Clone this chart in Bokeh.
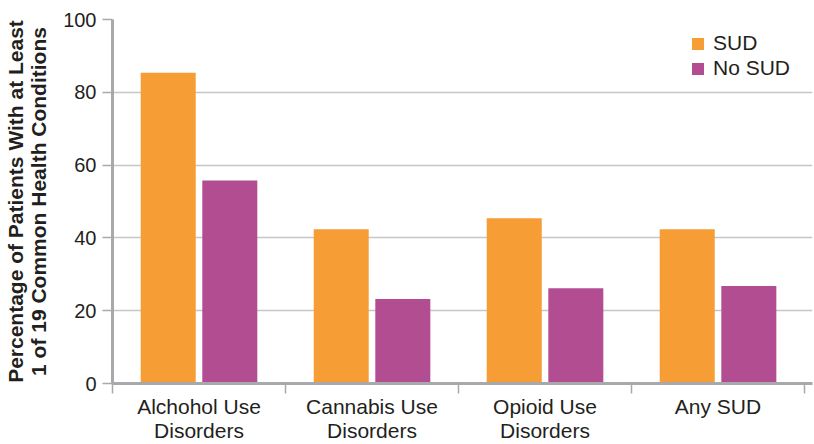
from bokeh.plotting import figure
from bokeh.models import (ColumnDataSource, FixedTicker, Range1d, Legend, LegendItem)
from bokeh.transform import dodge
from bokeh.embed import file_html
from bokeh.resources import INLINE

categories = ["Alchohol Use\nDisorders", "Cannabis Use\nDisorders", "Opioid Use\nDisorders", "Any SUD"]
sud = [85.4, 42.4, 45.4, 42.4]
no_sud = [55.8, 23.2, 26.2, 26.8]
y_ticks = [0, 20, 40, 60, 80, 100]
series_names = ["SUD", "No SUD"]
colors = ["#F69D36", "#B24D92"]

xpos = [i + 0.5 for i in range(len(categories))]
src = ColumnDataSource(dict(x=xpos, sud=sud, no_sud=no_sud))

FONT = "Liberation Sans"
TXT = "#231f20"
AX = "#a7a9ac"
GRID = "#c5c6c8"

p = figure(width=814, height=444, output_backend="svg", toolbar_location=None,
           x_range=Range1d(0, 4.046), y_range=Range1d(0, 100),
           min_border_left=112, min_border_right=2, min_border_top=19, min_border_bottom=60)
p.outline_line_color = None
p.background_fill_color = "white"
p.border_fill_color = "white"

w = 0.318
r1 = p.vbar(x=dodge("x", -0.178, range=p.x_range), top="sud", width=w, source=src,
            fill_color=colors[0], line_color=None)
r2 = p.vbar(x=dodge("x", 0.178, range=p.x_range), top="no_sud", width=w, source=src,
            fill_color=colors[1], line_color=None)

# X axis
xa = p.xaxis[0]
xa.ticker = FixedTicker(ticks=xpos, minor_ticks=list(range(len(categories) + 1)))
xa.major_label_overrides = {x: c for x, c in zip(xpos, categories)}
xa.major_tick_line_color = None
xa.minor_tick_in = 0
xa.minor_tick_out = 10
xa.minor_tick_line_color = AX
xa.minor_tick_line_width = 1.5
xa.axis_line_color = AX
xa.axis_line_width = 3
xa.major_label_text_font = FONT
xa.major_label_text_font_size = "21px"
xa.major_label_text_color = TXT
xa.major_label_standoff = 1
xa.major_label_text_line_height = 1.05

# Y axis
ya = p.yaxis[0]
ya.ticker = FixedTicker(ticks=y_ticks)
ya.minor_tick_line_color = None
ya.major_tick_in = 0
ya.major_tick_out = 10
ya.major_tick_line_color = AX
ya.major_tick_line_width = 1.5
ya.axis_line_color = AX
ya.axis_line_width = 3
ya.major_label_text_font = FONT
ya.major_label_text_font_size = "20px"
ya.major_label_text_color = TXT
ya.major_label_standoff = 6
ya.axis_label = "Percentage of Patients With at Least\n1 of 19 Common Health Conditions"
ya.axis_label_text_font = FONT
ya.axis_label_text_font_size = "21px"
ya.axis_label_text_font_style = "bold"
ya.axis_label_text_color = TXT
ya.axis_label_standoff = 10
ya.axis_label_text_line_height = 1.0

p.xgrid.grid_line_color = None
p.ygrid.ticker = FixedTicker(ticks=[20, 40, 60, 80])
p.ygrid.grid_line_color = GRID
p.ygrid.grid_line_width = 1.5

legend = Legend(items=[LegendItem(label=series_names[0], renderers=[r1]),
                       LegendItem(label=series_names[1], renderers=[r2])],
                location=(578, 303), padding=0, margin=0, spacing=1,
                glyph_width=15, glyph_height=15, label_height=15,
                label_standoff=8, border_line_color=None, background_fill_alpha=0,
                label_text_font=FONT, label_text_font_size="21px", label_text_color=TXT)
p.add_layout(legend)

open("out.html", "w").write(file_html(p, INLINE))
